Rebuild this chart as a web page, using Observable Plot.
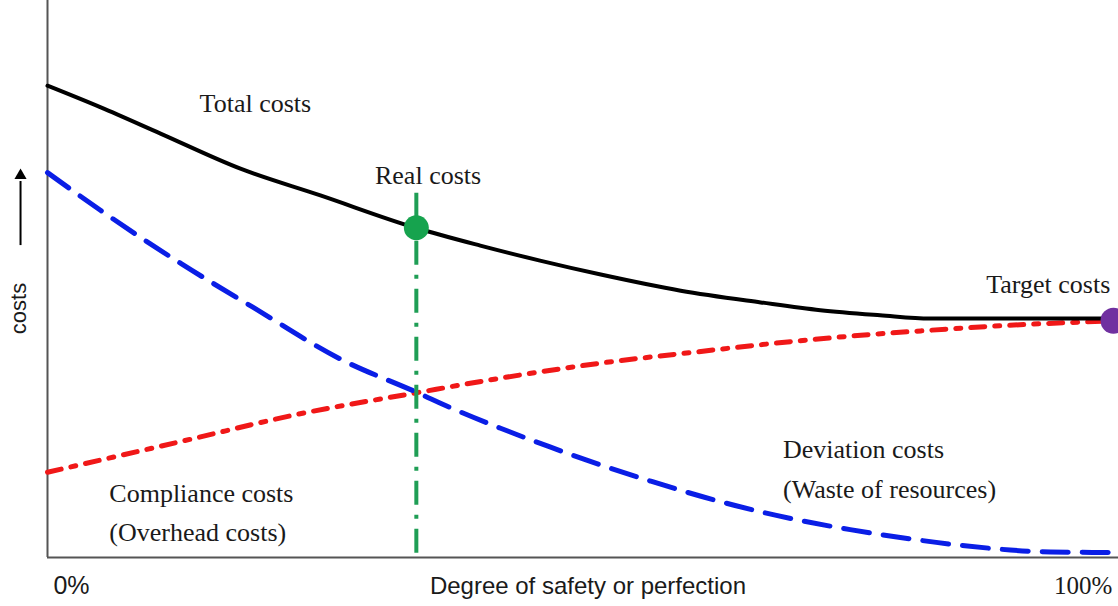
<!DOCTYPE html>
<html>
<head>
<meta charset="utf-8">
<script src="https://cdn.jsdelivr.net/npm/d3@7"></script>
<script src="https://cdn.jsdelivr.net/npm/@observablehq/plot@0.6"></script>
<style>
  html, body { margin: 0; padding: 0; background: #fff; overflow: hidden; }
  #chart svg { display: block; overflow: hidden; }
</style>
</head>
<body>
<div id="chart"></div>
<script>
// Degree of safety (%) and cost values
const totalPct  = [0, 5, 10.6, 18.1, 25.6, 34.5, 40.6, 46.2, 51.9, 59.4, 66.9, 72.5, 78.1, 82.8, 99.7];
const totalCost = [84.7, 80.8, 76.1, 69.8, 65.0, 59.2, 56.0, 53.3, 50.8, 47.9, 45.8, 44.4, 43.5, 42.9, 42.9];

const deviationPct  = [0, 5, 12.5, 19.3, 27.5, 34.7, 37.8, 42.5, 47.2, 51.9, 56.6, 61.3, 66.9, 75.3, 80, 85.6, 94.1, 100];
const deviationCost = [69.1, 62.3, 52.8, 44.9, 35.6, 29.6, 26.9, 23.2, 19.8, 16.6, 13.7, 11.0, 8.2, 5.0, 3.6, 2.2, 1.0, 0.9];

const compliancePct  = [0, 12.9, 23.7, 34.7, 42.5, 51.9, 61.3, 66.9, 76.3, 82.8, 89.4, 100];
const complianceCost = [15.3, 21.0, 25.8, 29.6, 32.2, 34.9, 37.0, 38.2, 39.9, 40.8, 41.6, 42.5];

const realPoint   = {x: 34.6, y: 59.2, top: 65.4};
const targetPoint = {x: 100, y: 42.5};

const curveLabels = [
  {text: "Total costs", x: 19.5, y: 79.9, anchor: "middle"},
  {text: "Real costs", x: 35.7, y: 67.1, anchor: "middle"},
  {text: "Target costs", x: 99.7, y: 47.4, anchor: "end"},
  {text: "Compliance costs", x: 5.8, y: 9.9, anchor: "start"},
  {text: "(Overhead costs)", x: 5.8, y: 3.05, anchor: "start"},
  {text: "Deviation costs", x: 69.0, y: 17.8, anchor: "start"},
  {text: "(Waste of resources)", x: 69.0, y: 10.6, anchor: "start"}
];
const tickLabels = [
  {text: "0%", x: 0.56, y: -6.6},
  {text: "100%", x: 99.9, y: -6.5}
];
const xTitle = "Degree of safety or perfection";
const yTitle = "costs";

const serif = "Liberation Serif, Times New Roman, serif";
const sans = "Liberation Sans, Arial, sans-serif";
const ink = "#1a1a1a";

const labelMark = anchor => Plot.text(curveLabels.filter(d => d.anchor === anchor), {
  x: "x", y: "y", text: "text", textAnchor: anchor, lineAnchor: "bottom",
  fontSize: 26, fontFamily: serif, fill: ink
});

const chart = Plot.plot({
  width: 1118,
  height: 606,
  marginLeft: 47,
  marginRight: 5,
  marginTop: 0,
  marginBottom: 49,
  x: {domain: [0, 100], axis: null},
  y: {domain: [0, 100], axis: null},
  marks: [
    // frame axes
    Plot.ruleX([0], {y1: 0, y2: 100, stroke: "#555", strokeWidth: 2}),
    Plot.ruleY([0], {x1: 0, x2: 100.6, stroke: "#555", strokeWidth: 2}),
    // compliance costs (red dash-dot)
    Plot.line(complianceCost, {x: compliancePct, y: complianceCost, stroke: "#f01818", strokeWidth: 5, strokeDasharray: "14,10,5,10", curve: "monotone-x"}),
    // deviation costs (blue dashed)
    Plot.line(deviationCost, {x: deviationPct, y: deviationCost, stroke: "#0a1ee6", strokeWidth: 5, strokeDasharray: "26,14", curve: "monotone-x"}),
    // total costs (black)
    Plot.line(totalCost, {x: totalPct, y: totalCost, stroke: "black", strokeWidth: 4, curve: "monotone-x"}),
    // real costs vertical
    Plot.ruleX([realPoint.x], {y1: realPoint.top, y2: 0, stroke: "#1f9e55", strokeWidth: 4, strokeDasharray: "24,10,4,10"}),
    Plot.dot([realPoint], {x: "x", y: "y", r: 12.5, fill: "#16a34e"}),
    Plot.dot([targetPoint], {x: "x", y: "y", r: 13, fill: "#7030a0"}),
    // curve labels
    labelMark("start"),
    labelMark("middle"),
    labelMark("end"),
    // tick labels
    Plot.text([tickLabels[0]], {x: "x", y: "y", text: "text", textAnchor: "start", lineAnchor: "bottom", fontSize: 25, fontFamily: sans, fill: ink}),
    Plot.text([tickLabels[1]], {x: "x", y: "y", text: "text", textAnchor: "end", lineAnchor: "bottom", fontSize: 25, fontFamily: serif, fill: ink}),
    // x title
    Plot.text([xTitle], {x: 50.7, y: -6.5, text: d => d, textAnchor: "middle", lineAnchor: "bottom", fontSize: 24, fontFamily: sans, fill: ink}),
    // y title and arrow
    Plot.text([yTitle], {x: -1.97, y: 44.7, text: d => d, rotate: -90, textAnchor: "middle", lineAnchor: "bottom", fontSize: 22, fontFamily: sans, fill: ink}),
    Plot.ruleX([-2.53], {y1: 56.0, y2: 67.5, stroke: "black", strokeWidth: 2}),
    Plot.dot([{x: -2.53, y: 68.6}], {x: "x", y: "y", symbol: "triangle", r: 4.5, fill: "black", stroke: "none"})
  ]
});
document.getElementById("chart").appendChild(chart);
</script>
</body>
</html>
